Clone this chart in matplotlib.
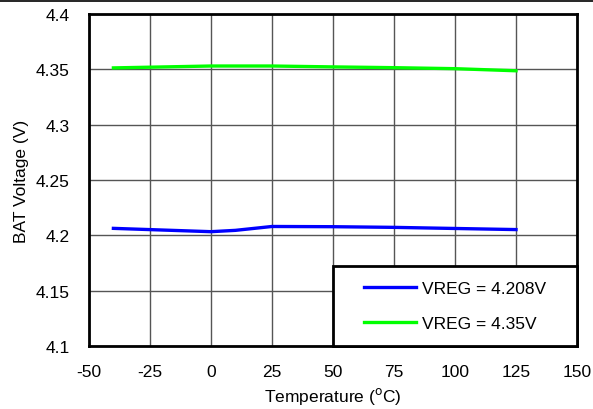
import matplotlib
matplotlib.use("Agg")
import matplotlib.pyplot as plt
from matplotlib.lines import Line2D
from matplotlib.patches import Rectangle

temps_a = [-40, -20, 0, 10, 25, 50, 75, 100, 125]
vreg_4208 = [4.2063, 4.2048, 4.2033, 4.2045, 4.2080, 4.2078, 4.2072, 4.2062, 4.2052]
temps_b = [-40, 0, 25, 50, 75, 100, 125]
vreg_435 = [4.3513, 4.3530, 4.3530, 4.3522, 4.3515, 4.3506, 4.3487]
xticks = [-50, -25, 0, 25, 50, 75, 100, 125, 150]
yticks = [4.1, 4.15, 4.2, 4.25, 4.3, 4.35, 4.4]
ytick_labels = ["4.1", "4.15", "4.2", "4.25", "4.3", "4.35", "4.4"]

plt.rcParams['font.family'] = ['Liberation Sans', 'DejaVu Sans']
plt.rcParams['axes.unicode_minus'] = False

FS = 12.5
fig = plt.figure(figsize=(5.93, 4.10), dpi=100)
ax = fig.add_axes([89/593, 1 - 347/410, (577-89)/593, (347-15)/410])

ax.plot(temps_a, vreg_4208, color='#0000ff', lw=2.4, label='VREG = 4.208V', zorder=3)
ax.plot(temps_b, vreg_435, color='#00ff00', lw=2.4, label='VREG = 4.35V', zorder=3)

ax.set_xlim(-50, 150)
ax.set_ylim(4.1, 4.4)
ax.set_xticks(xticks)
ax.set_yticks(yticks)
ax.set_yticklabels(ytick_labels)
ax.tick_params(axis='x', length=0, labelsize=FS, pad=13)
ax.tick_params(axis='y', length=0, labelsize=FS, pad=14)
ax.grid(True, color='#555555', lw=1.0)
ax.set_axisbelow(True)
for s in ax.spines.values():
    s.set_linewidth(2.0)
    s.set_color('black')

ax.set_xlabel('Temperature ($^{\\mathrm{o}}$C)', fontsize=FS, labelpad=4)
ax.set_ylabel('BAT Voltage (V)', fontsize=FS, labelpad=5)

box = Rectangle((0.5, 0.0), 0.5, 80/332, transform=ax.transAxes, facecolor='white',
                edgecolor='black', lw=2.0, zorder=4, clip_on=False)
ax.add_patch(box)
leg = ax.legend(loc='center', bbox_to_anchor=(0.75, 40/332), fontsize=FS,
                frameon=False, borderaxespad=0.0, borderpad=0.0,
                handlelength=3.0, handletextpad=0.3, labelspacing=1.15)
leg.set_zorder(5)

fig.add_artist(Line2D([0, 1], [1 - 2/410, 1 - 2/410], color='black', lw=1.2, transform=fig.transFigure))

fig.savefig('out.png', dpi=100)
